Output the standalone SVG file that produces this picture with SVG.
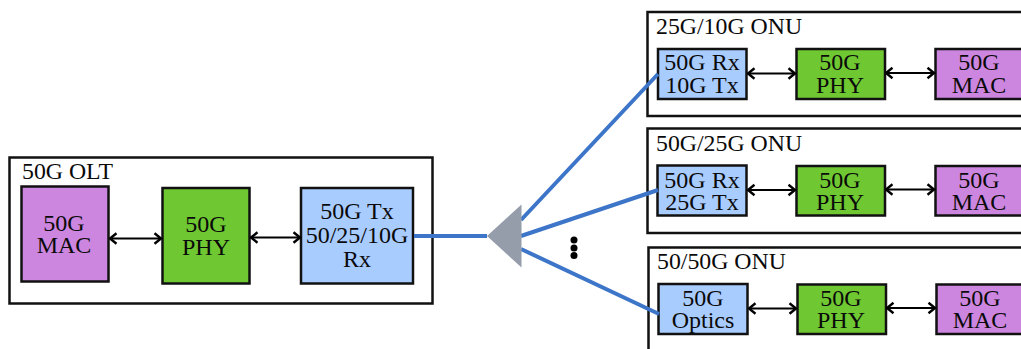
<svg xmlns="http://www.w3.org/2000/svg" width="1021" height="349" viewBox="0 0 1021 349">
<defs>
<marker id="a" viewBox="0 0 14 14" refX="12.500" refY="7" markerWidth="14" markerHeight="14" markerUnits="userSpaceOnUse" orient="auto-start-reverse"><path d="M6 1.800 12.500 7 6 12.200" fill="none" stroke="#000" stroke-width="2.400"/></marker>
</defs>
<style>
text{font-family:"Liberation Serif","Times New Roman",serif;font-size:24px;fill:#0a0a0a;text-anchor:middle}
.t{text-anchor:start;font-size:23.800px}
.o{fill:#fff;stroke:#111;stroke-width:2.500}
.b{stroke:#111;stroke-width:2.500}
.mac{fill:#cd86df}
.phy{fill:#6fc832}
.opt{fill:#a9ccff}
.f{fill:none;stroke:#3d75c9;stroke-width:4}
.c{fill:none;stroke:#000;stroke-width:2.200;marker-start:url(#a);marker-end:url(#a)}
</style>
<g id="olt">
<rect class="o" x="9.500" y="157.500" width="423" height="146"/>
<text class="t" x="22" y="179">50G OLT</text>
<rect class="b mac" x="21.500" y="186.500" width="87" height="95"/>
<text x="64" y="231">50G<tspan x="64" y="253">MAC</tspan></text>
<rect class="b phy" x="162.500" y="188" width="87" height="95.500"/>
<text x="206" y="232">50G<tspan x="206" y="255">PHY</tspan></text>
<rect class="b opt" x="301" y="188" width="112" height="95.500"/>
<text x="357" y="219">50G Tx<tspan x="357" y="243">50/25/10G</tspan><tspan x="357" y="267">Rx</tspan></text>
</g>
<g id="onu1">
<rect class="o" x="647.500" y="12" width="380" height="104"/>
<text class="t" x="656" y="34">25G/10G ONU</text>
<rect class="b opt" x="658" y="49" width="88.500" height="50"/>
<text x="702" y="70">50G Rx<tspan x="702" y="93">10G Tx</tspan></text>
<rect class="b phy" x="796.500" y="49" width="88.500" height="50"/>
<text x="840" y="70">50G<tspan x="840" y="93">PHY</tspan></text>
<rect class="b mac" x="935.500" y="49" width="90" height="50"/>
<text x="979" y="70">50G<tspan x="979" y="93">MAC</tspan></text>
</g>
<g id="onu2">
<rect class="o" x="647.500" y="128.500" width="380" height="104.500"/>
<text class="t" x="656" y="151">50G/25G ONU</text>
<rect class="b opt" x="657.500" y="165.500" width="89" height="50"/>
<text x="702" y="188">50G Rx<tspan x="702" y="210">25G Tx</tspan></text>
<rect class="b phy" x="796.500" y="166" width="88.500" height="49.500"/>
<text x="840" y="188">50G<tspan x="840" y="210">PHY</tspan></text>
<rect class="b mac" x="935.500" y="166" width="90" height="49.500"/>
<text x="979" y="188">50G<tspan x="979" y="210">MAC</tspan></text>
</g>
<g id="onu3">
<rect class="o" x="648.500" y="247.500" width="380" height="110"/>
<text class="t" x="657" y="269">50/50G ONU</text>
<rect class="b opt" x="658.500" y="284" width="89" height="50"/>
<text x="703" y="306">50G<tspan x="703" y="328">Optics</tspan></text>
<rect class="b phy" x="797.500" y="284.500" width="88.500" height="49.500"/>
<text x="841" y="306">50G<tspan x="841" y="328">PHY</tspan></text>
<rect class="b mac" x="936.500" y="284.500" width="90" height="49.500"/>
<text x="980" y="306">50G<tspan x="980" y="328">MAC</tspan></text>
</g>
<g id="connectors">
<path class="f" d="M414 236H487M521 220 658 74M521 236 658 190M521 249 659 314"/>
<path class="c" d="M110 238.500H161"/>
<path class="c" d="M251 237.500H300"/>
<path class="c" d="M748 73.500H795"/>
<path class="c" d="M886 73H934"/>
<path class="c" d="M748 190H795"/>
<path class="c" d="M886 189.500H934"/>
<path class="c" d="M749 308.500H796"/>
<path class="c" d="M887 308H935"/>
</g>
<g id="splitter"><path d="M487 236 521.500 204.500V267.500Z" fill="#949da9"/></g>
<g id="dots" fill="#000"><circle cx="574" cy="240" r="3.500"/><circle cx="574" cy="248" r="3.500"/><circle cx="574" cy="255.500" r="3.500"/></g>
</svg>
